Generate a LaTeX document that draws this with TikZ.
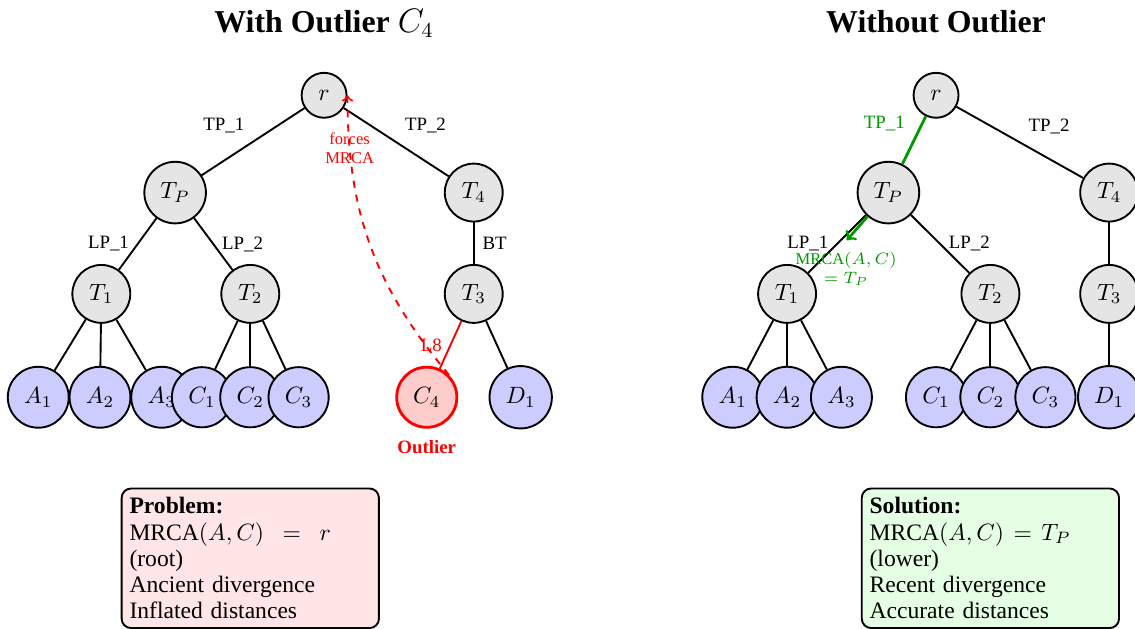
\documentclass[tikz,border=0pt]{standalone}
\usepackage[no-math]{fontspec}
\setmainfont{Liberation Serif}
\usetikzlibrary{positioning}
\tikzstyle{vertex} = [circle, draw, thick, inner sep=4pt, minimum size=6.7mm]
\tikzstyle{internal} = [vertex, fill=gray!20]
\tikzstyle{leaf} = [vertex, fill=blue!20]
\tikzstyle{outlier} = [vertex, draw=red, very thick, fill=red!20]
\tikzstyle{branch} = [thick]
\tikzstyle{edgelabel} = [font=\footnotesize]
\tikzstyle{note} = [font=\scriptsize, align=center]
\tikzstyle{title} = [font=\fontsize{13.5}{16}\selectfont\bfseries, anchor=base]
\tikzstyle{summary} = [draw, thick, rounded corners, text width=3.6cm, minimum height=2.08cm, font=\fontsize{10}{11.1}\selectfont]
\colorlet{mrcagreen}{green!60!black}

\begin{document}
\begin{tikzpicture}
    \useasboundingbox (0,0) rectangle (16.915,-9.374);

    % With outlier.
    \node (title l) [title] at (4.83,-0.48) {With Outlier $C_4$};
    \node (root l) [internal] at (4.83,-1.42) {$r$};
    \node (tp l) [internal] at (2.61,-2.87) {$T_P$};
    \node (t4 l) [internal] at (7.06,-2.87) {$T_4$};
    \node (t1 l) [internal] at (1.51,-4.38) {$T_1$};
    \node (t2 l) [internal] at (3.73,-4.38) {$T_2$};
    \node (t3 l) [internal] at (7.06,-4.38) {$T_3$};
    \node (a1 l) [leaf] at (0.57,-5.92) {$A_1$};
    \node (a2 l) [leaf] at (1.49,-5.92) {$A_2$};
    \node (a3 l) [leaf] at (2.41,-5.92) {$A_3$};
    \node (c1 l) [leaf] at (3.01,-5.92) {$C_1$};
    \node (c2 l) [leaf] at (3.73,-5.92) {$C_2$};
    \node (c3 l) [leaf] at (4.45,-5.92) {$C_3$};
    \node (c4) [outlier] at (6.36,-5.92) {$C_4$};
    \node (d1 l) [leaf] at (7.76,-5.92) {$D_1$};
    \node (outlier) [below=0.5mm of c4, font=\footnotesize\bfseries, text=red] {Outlier};

    \draw [branch] (root l) -- node [edgelabel, above left] {TP\_1} (tp l);
    \draw [branch] (root l) -- node [edgelabel, above right] {TP\_2} (t4 l);
    \draw [branch] (tp l) -- node [edgelabel, left] {LP\_1} (t1 l);
    \draw [branch] (tp l) -- node [edgelabel, right] {LP\_2} (t2 l);
    \draw [branch] (t4 l) -- node [edgelabel, right] {BT} (t3 l);
    \draw [branch] (t1 l) -- (a1 l);
    \draw [branch] (t1 l) -- (a2 l);
    \draw [branch] (t1 l) -- (a3 l);
    \draw [branch] (t2 l) -- (c1 l);
    \draw [branch] (t2 l) -- (c2 l);
    \draw [branch] (t2 l) -- (c3 l);
    \draw [branch, red] (t3 l) -- node [edgelabel, left] {L8} (c4);
    \draw [branch] (t3 l) -- (d1 l);
    \draw [->, thick, dashed, red] (c4.north east) to [bend left=20] node [note, pos=0.84] {forces\\MRCA} (root l.east);

    \node (problem) [summary, fill=red!10] at (3.73,-8.32) {\parbox{3cm}{\textbf{Problem:}\\ MRCA$(A,C) = r$ (root)\\ Ancient divergence\\ Inflated distances}};

    % Without outlier.
    \node (title r) [title] at (13.95,-0.48) {Without Outlier};
    \node (root r) [internal] at (13.95,-1.42) {$r$};
    \node (tp r) [internal] at (13.24,-2.87) {$T_P$};
    \node (t4 r) [internal] at (16.53,-2.87) {$T_4$};
    \node (t1 r) [internal] at (11.73,-4.38) {$T_1$};
    \node (t2 r) [internal] at (14.76,-4.38) {$T_2$};
    \node (t3 r) [internal] at (16.53,-4.38) {$T_3$};
    \node (a1 r) [leaf] at (10.92,-5.92) {$A_1$};
    \node (a2 r) [leaf] at (11.73,-5.92) {$A_2$};
    \node (a3 r) [leaf] at (12.54,-5.92) {$A_3$};
    \node (c1 r) [leaf] at (13.95,-5.92) {$C_1$};
    \node (c2 r) [leaf] at (14.76,-5.92) {$C_2$};
    \node (c3 r) [leaf] at (15.58,-5.92) {$C_3$};
    \node (d1 r) [leaf] at (16.53,-5.92) {$D_1$};
    \coordinate (mrca tip) at (12.62,-3.58);

    \draw [very thick, mrcagreen] (root r) -- node [edgelabel, above left] {TP\_1} (tp r);
    \draw [branch] (root r) -- node [edgelabel, above right] {TP\_2} (t4 r);
    \draw [branch] (tp r) -- node [edgelabel, left] {LP\_1} (t1 r);
    \draw [branch] (tp r) -- node [edgelabel, right] {LP\_2} (t2 r);
    \draw [branch] (t4 r) -- (t3 r);
    \draw [branch] (t1 r) -- (a1 r);
    \draw [branch] (t1 r) -- (a2 r);
    \draw [branch] (t1 r) -- (a3 r);
    \draw [branch] (t2 r) -- (c1 r);
    \draw [branch] (t2 r) -- (c2 r);
    \draw [branch] (t2 r) -- (c3 r);
    \draw [branch] (t3 r) -- (d1 r);
    \draw [->, very thick, mrcagreen] (tp r) -- (mrca tip);
    \node (mrca) [note, text=mrcagreen] at (12.61,-4.01) {MRCA$(A,C)$\\$= T_P$};

    \node (solution) [summary, fill=green!10] at (14.76,-8.32) {\parbox{3cm}{\textbf{Solution:}\\ MRCA$(A,C) = T_P$ (lower)\\ Recent divergence\\ Accurate distances}};
\end{tikzpicture}
\end{document}
